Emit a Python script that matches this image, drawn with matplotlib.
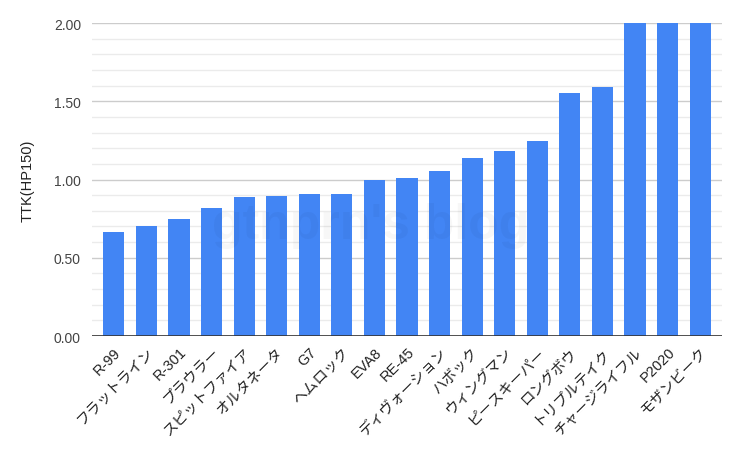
import numpy as np
from matplotlib import pyplot as plt

plt.rcParams['font.family'] = ['Liberation Sans', 'Noto Sans CJK JP']

# 武器名とTTK(HP150)
weapons = ["R-99", "フラットライン", "R-301", "プラウラー", "スピットファイア", "オルタネータ",
           "G7", "ヘムロック", "EVA8", "RE-45", "ディヴォーション", "ハボック",
           "ウィングマン", "ピースキーパー", "ロングボウ", "トリプルテイク",
           "チャージライフル", "P2020", "モザンビーク"]
ttk = [0.665, 0.70, 0.745, 0.815, 0.89, 0.895, 0.905, 0.905, 1.00, 1.01, 1.055,
       1.135, 1.185, 1.245, 1.55, 1.59, 2.0, 2.0, 2.0]
y_ticks = [0.0, 0.5, 1.0, 1.5, 2.0]

fig = plt.figure(figsize=(7.42, 4.52), dpi=100)
ax = fig.add_axes([0.124, 0.2544, 0.849, 0.6925])

x = np.arange(len(weapons))
ax.bar(x, ttk, width=0.65, color="#4285F4", zorder=3)

ax.set_xlim(-0.67, len(weapons) - 0.33)
ax.set_ylim(0, 2.0)
ax.set_yticks(y_ticks)
ax.set_yticklabels([f"{v:.2f}" for v in y_ticks])
ax.set_yticks(np.arange(0.1, 2.0, 0.1), minor=True)
ax.grid(True, axis="y", which="major", color="#cccccc", linewidth=1, zorder=0)
ax.grid(True, axis="y", which="minor", color="#ebebeb", linewidth=1, zorder=0)
ax.axhline(0, color="#333333", linewidth=1.2, zorder=4)

ax.set_xticks(x)
ax.set_xticklabels(weapons, rotation=45, ha="right", rotation_mode="anchor")
ax.tick_params(axis="x", length=0, pad=6, labelsize=10.5, labelcolor="#222222")
ax.tick_params(axis="y", which="both", length=0, pad=8, labelsize=10, labelcolor="#444444")
for s in ax.spines.values():
    s.set_visible(False)

ax.set_ylabel("TTK(HP150)", fontsize=10.5, color="#222222", labelpad=14)

# うすい透かし文字
fig.text(0.50, 0.50, "gtnprn's blog", fontsize=36, fontweight="bold",
         color="#000000", alpha=0.03, ha="center", va="center", zorder=5)

fig.savefig("out.png", dpi=100)
